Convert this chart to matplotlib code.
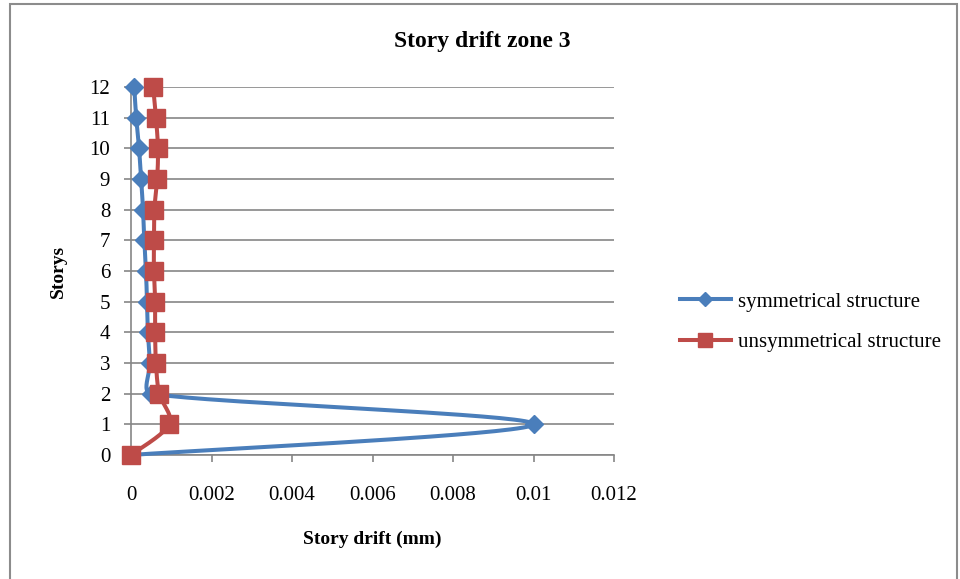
import matplotlib
matplotlib.use('Agg')
import matplotlib.pyplot as plt
from matplotlib.patches import Rectangle
import numpy as np

plt.rcParams['font.family'] = ['Liberation Serif', 'DejaVu Serif']

storys = [0, 1, 2, 3, 4, 5, 6, 7, 8, 9, 10, 11, 12]
drift_symmetrical = [0, 0.01, 0.0005, 0.00047, 0.00042, 0.0004, 0.00037,
                     0.00033, 0.0003, 0.00025, 0.0002, 0.00013, 0.00008]
drift_unsymmetrical = [0, 0.00095, 0.0007, 0.00062, 0.0006, 0.0006, 0.00057,
                       0.00057, 0.00058, 0.00065, 0.00067, 0.00062, 0.00055]

xmax, ymax = 0.012, 12
blue = '#4A7EBB'
red = '#BE4B48'


def smooth(xs, ys, sx, sy, n=40):
    # Catmull-Rom style curve; each handle is capped at a third of its
    # segment so short segments next to long ones do not overshoot
    p = np.column_stack([np.asarray(xs) / sx, np.asarray(ys) / sy])

    def cap(v, seg):
        L = np.linalg.norm(v)
        lim = seg / 3
        return v * (lim / L) if L > lim else v

    out = [p[0]]
    for i in range(len(p) - 1):
        p0 = p[i - 1] if i > 0 else p[i]
        p3 = p[i + 2] if i + 2 < len(p) else p[i + 1]
        p1, p2 = p[i], p[i + 1]
        seg = np.linalg.norm(p2 - p1)
        c1 = p1 + cap((p2 - p0) / 6, seg)
        c2 = p2 - cap((p3 - p1) / 6, seg)
        t = np.linspace(0, 1, n)[1:, None]
        pts = ((1 - t) ** 3 * p1 + 3 * (1 - t) ** 2 * t * c1
               + 3 * (1 - t) * t ** 2 * c2 + t ** 3 * p2)
        out.extend(pts)
    out = np.array(out)
    return out[:, 0] * sx, out[:, 1] * sy


fig = plt.figure(figsize=(9.6, 5.79), dpi=100)
fig.patches.append(Rectangle((10 / 960, -0.05), 947 / 960, 1.05 - 4 / 579,
                             transform=fig.transFigure, fill=False,
                             edgecolor='#8c8c8c', linewidth=1.5))

ax = fig.add_axes([131 / 960, 1 - 455 / 579, 483 / 960, 368 / 579])

# pixel size of one data unit, used to scale the smoothing
sx, sy = xmax / 483, ymax / 368
for xs, color, marker, ms, label in [
        (drift_symmetrical, blue, 'D', 9.5, 'symmetrical structure'),
        (drift_unsymmetrical, red, 's', 12.5, 'unsymmetrical structure')]:
    cx, cy = smooth(xs, storys, sx, sy)
    ax.plot(cx, cy, color=color, lw=2.9, solid_capstyle='round', zorder=3,
            clip_on=False)
    ax.plot(xs, storys, linestyle='none', marker=marker, ms=ms,
            color=color, zorder=4, clip_on=False)
    ax.plot([], [], color=color, lw=2.9, marker=marker, ms=ms * 0.75,
            label=label)

ax.set_xlim(0, xmax)
ax.set_ylim(0, ymax)
ax.set_xticks(np.arange(0, 0.0121, 0.002))
ax.set_xticklabels(['0', '0.002', '0.004', '0.006', '0.008', '0.01', '0.012'])
ax.set_yticks(range(0, 13))
ax.grid(axis='y', color='#868686', lw=1.2)
ax.set_axisbelow(True)
for s in ['top', 'right']:
    ax.spines[s].set_visible(False)
for s in ['left', 'bottom']:
    ax.spines[s].set_color('#868686')
    ax.spines[s].set_linewidth(1.2)
ax.tick_params(axis='both', colors='#868686', labelcolor='black',
               labelsize=15, length=5, width=1.2)
ax.tick_params(axis='x', pad=17)
ax.tick_params(axis='y', pad=10)

ax.set_xlabel('Story drift (mm)', fontsize=14, fontweight='bold', labelpad=19)
ax.set_ylabel('Storys', fontsize=14, fontweight='bold', labelpad=16)
fig.text(482 / 960, 1 - 42 / 579, 'Story drift zone 3', fontsize=17,
         fontweight='bold', ha='center', va='center')

fig.legend(loc='center left', bbox_to_anchor=(661 / 960, 1 - 322 / 579),
           frameon=False, fontsize=15, handlelength=2.45, labelspacing=1.0,
           handletextpad=0.35)

fig.savefig('out.png', dpi=100)
